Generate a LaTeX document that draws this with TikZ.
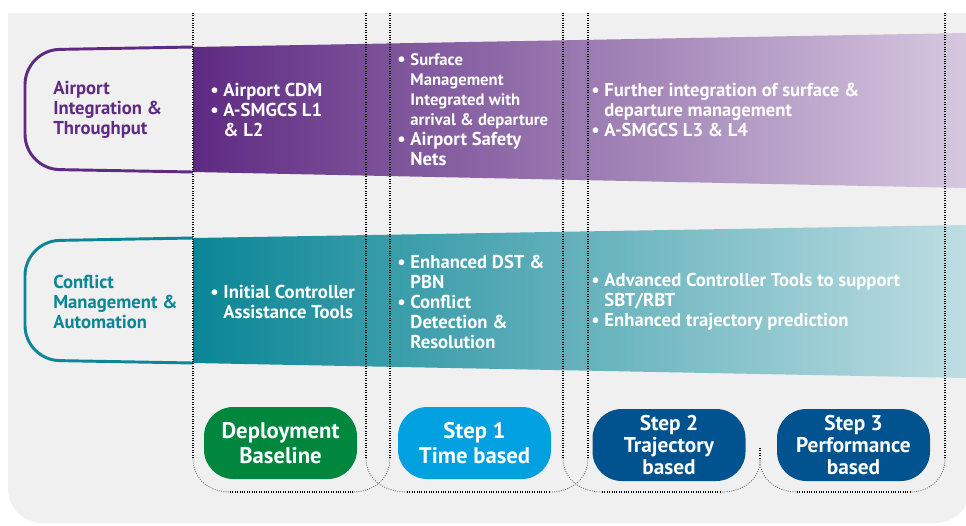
\documentclass[tikz,border=0pt]{standalone}
\usepackage{fontspec}
\setmainfont{PT Sans}
\usepackage{tikz}

\definecolor{bggray}{HTML}{F0F0F0}
\definecolor{aipurple}{HTML}{5E2A82}
\definecolor{aipurplelt}{HTML}{D6C8DF}
\definecolor{cmteal}{HTML}{0A8696}
\definecolor{cmteallt}{HTML}{BEDDE2}
\definecolor{dbgreen}{HTML}{00873E}
\definecolor{sonecyan}{HTML}{00A0E1}
\definecolor{stwoblue}{HTML}{01538F}

\newcommand{\ind}{\hphantom{\textbullet\ }}
\newcommand{\narrow}[1]{{\fontsize{12.5}{15}\selectfont #1}}

\begin{document}
\begin{tikzpicture}[x=0.75pt,y=-0.75pt,
  sep/.style={densely dotted,line width=0.8pt},
  sepcurve/.style={densely dotted,line width=0.7pt,black!55},
  bandtxt/.style={anchor=west,inner sep=0pt,align=left,text=white,font=\bfseries\fontsize{14}{15}\selectfont},
  rowlabel/.style={anchor=west,inner sep=0pt,align=left,font=\bfseries\fontsize{14}{15}\selectfont},
  pill/.style={rounded corners=22pt,minimum width=114.75pt,minimum height=54pt,inner sep=0pt,align=center,text=white,font=\bfseries\fontsize{17}{18.75}\selectfont},
  pillthree/.style={pill,font=\bfseries\fontsize{16}{16.5}\selectfont}]
  \useasboundingbox (0,0) rectangle (966,525);
  \fill[white] (0,0) rectangle (966,525);
  \fill[bggray,rounded corners=26pt] (8,13) rectangle (970,523);
  \fill[bggray] (8,13) rectangle (970,100);

  \shade[left color=aipurple,right color=aipurplelt] (193,47) -- (966,33) -- (966,188) -- (193,172) -- cycle;
  \draw[aipurple,line width=2.2pt,rounded corners=26pt] (193,47) -- (25,50) -- (25,169) -- (193,172);
  \shade[left color=cmteal,right color=cmteallt] (193,238) -- (966,225) -- (966,378) -- (193,363) -- cycle;
  \draw[cmteal,line width=2.2pt,rounded corners=26pt] (193,238) -- (25,241) -- (25,360) -- (193,363);

  \node[rowlabel,text=aipurple] (ait) at (53,110) {Airport\\Integration \&\\Throughput};
  \node[rowlabel,text=cmteal] (cma) at (53,302) {Conflict\\Management \&\\Automation};

  \node[bandtxt] (aidb) at (210,110) {\textbullet\ Airport CDM\\\textbullet\ A-SMGCS L1\\\ind\& L2};
  \node[bandtxt] (ais1) at (397,110) {\textbullet\ \narrow{Surface}\\\ind\narrow{Management}\\\ind\narrow{Integrated with}\\\ind\narrow{arrival \& departure}\\\textbullet\ Airport Safety\\\ind Nets};
  \node[bandtxt] (ais2) at (591,110) {\textbullet\ Further integration of surface \&\\\ind departure management\\\textbullet\ A-SMGCS L3 \& L4};
  \node[bandtxt] (cmdb) at (210,302) {\textbullet\ Initial Controller\\\ind Assistance Tools};
  \node[bandtxt] (cms1) at (397,302) {\textbullet\ Enhanced DST \&\\\ind PBN\\\textbullet\ Conflict\\\ind Detection \&\\\ind Resolution};
  \node[bandtxt] (cms2) at (591,302) {\textbullet\ Advanced Controller Tools to support\\\ind SBT/RBT\\\textbullet\ Enhanced trajectory prediction};

  \foreach \x in {193,366,390,563,588,945} \draw[sep] (\x,13) -- (\x,458);
  \draw[sep] (760,448) -- (760,460);
  \draw[sep] (230,492) -- (353,492);
  \draw[sep] (407,492) -- (550,492);
  \draw[sep] (602,492) -- (722,492);
  \draw[sep] (797,492) -- (910,492);
  \draw[sepcurve] (193,458) .. controls (193,480) and (210,492) .. (230,492);
  \draw[sepcurve] (366,458) .. controls (366,480) and (385,492) .. (407,492);
  \draw[sepcurve] (390,458) .. controls (390,480) and (372,492) .. (353,492);
  \draw[sepcurve] (563,458) .. controls (563,480) and (582,492) .. (602,492);
  \draw[sepcurve] (588,458) .. controls (588,480) and (570,492) .. (550,492);
  \draw[sepcurve] (760,460) .. controls (760,480) and (742,492) .. (722,492);
  \draw[sepcurve] (760,460) .. controls (760,480) and (778,492) .. (797,492);
  \draw[sepcurve] (945,458) .. controls (945,480) and (928,492) .. (910,492);

  \node[pill,fill=dbgreen] (dbl) at (280.5,443) {Deployment\\Baseline};
  \node[pill,fill=sonecyan] (st1) at (474.5,443) {Step 1\\Time based};
  \node[pillthree,fill=stwoblue] (st2) at (669,445) {Step 2\\Trajectory\\based};
  \node[pillthree,fill=stwoblue] (st3) at (853.5,445) {Step 3\\Performance\\based};
\end{tikzpicture}
\end{document}
